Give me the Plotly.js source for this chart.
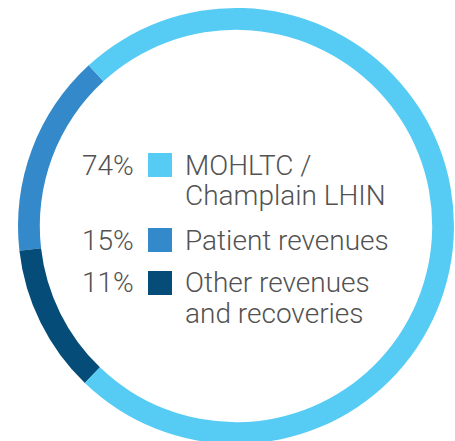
<!DOCTYPE html>
<html><head><meta charset="utf-8">
<script src="https://cdn.plot.ly/plotly-3.0.1.min.js"></script>
<style>html,body{margin:0;padding:0;overflow:hidden;background:#fff}</style>
</head><body><div id="chart" style="width:455px;height:446px"></div>
<script>
// data
const labels = ["Patient revenues", "Other revenues and recoveries", "MOHLTC / Champlain LHIN"];
const values = [15, 11, 74];
const colors = ["#3489CB", "#054C78", "#56CCF5"];
const legendOrder = [2, 0, 1];
const legendLines = [["MOHLTC /", "Champlain LHIN"], ["Patient revenues"], ["Other revenues", "and recoveries"]];
const pctText = ["74%", "15%", "11%"];

const W = 455, H = 446;
const px = x => x / W;
const py = y => 1 - y / H;

const cx = 236, cy = 226, R = 218;
const trace = {
  type: "pie", labels: labels, values: values, sort: false,
  direction: "counterclockwise", rotation: -96.5, hole: 0.9,
  marker: {colors: colors, line: {width: 0}},
  textinfo: "none", hoverinfo: "label+percent", showlegend: false,
  domain: {x: [px(cx - R), px(cx + R)], y: [py(cy + R), py(cy - R)]}
};

const font = {family: "Roboto, sans-serif", size: 28, color: "#525252", weight: 300};
const rowTop = [153, 228, 271];
const lineMid = [[165, 196], [240], [282, 313]];
const annotations = [], shapes = [];
legendOrder.forEach((idx, i) => {
  const t = rowTop[i];
  shapes.push({type: "rect", xref: "paper", yref: "paper",
    x0: px(148), x1: px(172), y0: py(t + 24), y1: py(t),
    fillcolor: colors[idx], line: {width: 0}});
  annotations.push({xref: "paper", yref: "paper", x: px(136), y: py(lineMid[i][0]),
    xanchor: "right", yanchor: "middle", text: pctText[i], showarrow: false, font: font});
  legendLines[i].forEach((ln, j) => {
    annotations.push({xref: "paper", yref: "paper", x: px(183), y: py(lineMid[i][j]),
      xanchor: "left", yanchor: "middle", align: "left", text: ln, showarrow: false, font: font});
  });
});

Plotly.newPlot("chart", [trace], {
  width: W, height: H, margin: {l: 0, r: 0, t: 0, b: 0},
  paper_bgcolor: "#fff", showlegend: false,
  annotations: annotations, shapes: shapes
}, {staticPlot: true});
</script></body></html>
